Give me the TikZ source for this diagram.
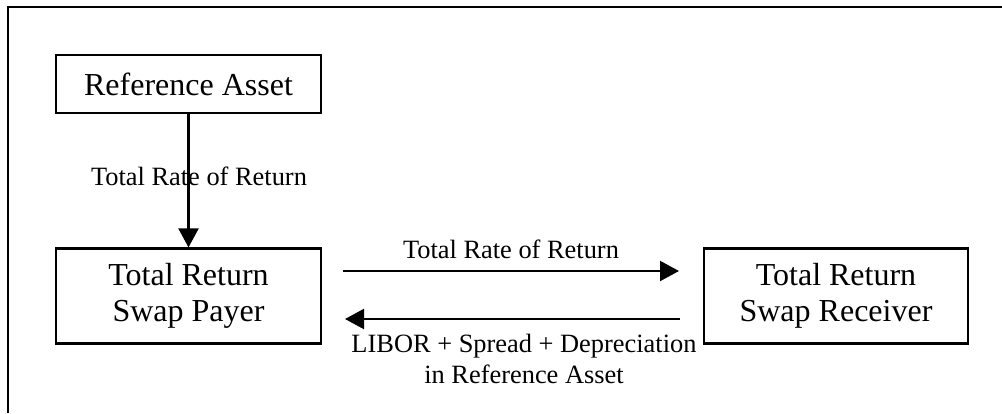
\documentclass[tikz,border=0pt]{standalone}
\usepackage{fontspec}
\setmainfont{Liberation Serif}
\usetikzlibrary{arrows.meta}
\begin{document}
\begin{tikzpicture}[x=0.5pt,y=-0.5pt,
  box/.style={draw,line width=1.1pt,inner sep=0pt,align=center,
    font=\fontsize{16}{18}\selectfont},
  lbl/.style={inner sep=0pt,align=center,font=\fontsize{13.2}{15.5}\selectfont},
  flow/.style={line width=1.1pt,-{Triangle[length=9.5pt,width=10pt]}}]
\useasboundingbox (0,0) rectangle (1002,413);
% frame
\draw[line width=1.1pt] (8,413) -- (8,7) -- (1002,7);
% boxes
\node[box,minimum width=132.5pt,minimum height=29pt] (ref) at (188.5,84) {Reference Asset};
\node[box,minimum width=132.5pt,minimum height=47.5pt] (payer) at (188.5,296) {Total Return\\Swap Payer};
\node[box,minimum width=132pt,minimum height=47.5pt] (recv) at (836,296) {Total Return\\Swap Receiver};
% vertical arrow
\draw[flow] (ref.south) -- (payer.north);
\node[lbl,anchor=base] (l1) at (199,185) {Total Rate of Return};
% horizontal arrows
\coordinate (a1) at (343,271);
\coordinate (a2) at (679,271);
\coordinate (b1) at (680,319);
\coordinate (b2) at (345,319);
\draw[flow] (a1) -- (a2);
\draw[flow] (b1) -- (b2);
\node[lbl,anchor=base] (l2) at (511,258) {Total Rate of Return};
\node[lbl,anchor=base] (l3) at (524,352) {LIBOR + Spread + Depreciation};
\node[lbl,anchor=base] (l4) at (524,383) {in Reference Asset};
\end{tikzpicture}
\end{document}
